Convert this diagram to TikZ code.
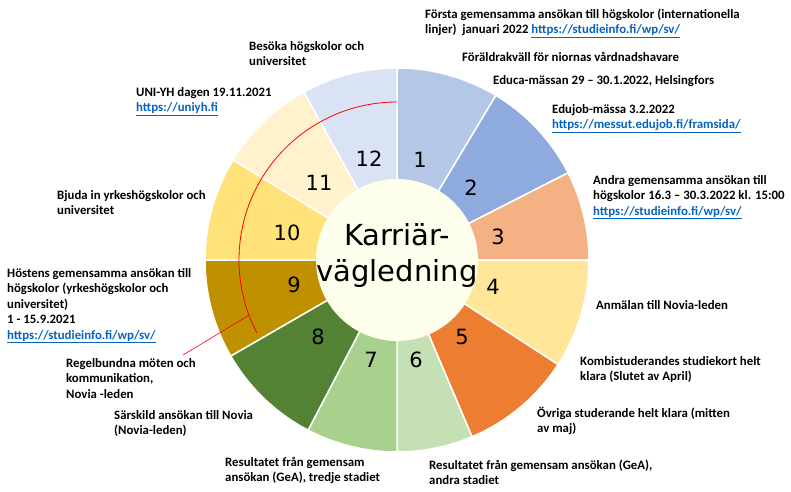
\documentclass[tikz,border=0pt]{standalone}
\usepackage{fontspec}
\setmainfont{Carlito}
\newfontfamily\comic{DejaVu Sans}
\definecolor{linkblue}{HTML}{0563C1}
\definecolor{cA}{HTML}{B4C7E7}\definecolor{cB}{HTML}{8FAADC}\definecolor{cC}{HTML}{F4B183}
\definecolor{cD}{HTML}{FFE699}\definecolor{cE}{HTML}{ED7D31}\definecolor{cF}{HTML}{C5E0B4}
\definecolor{cG}{HTML}{A9D18E}\definecolor{cH}{HTML}{548235}\definecolor{cI}{HTML}{BF9000}
\definecolor{cJ}{HTML}{FFE27A}\definecolor{cK}{HTML}{FFF2CC}\definecolor{cL}{HTML}{DAE3F3}
\definecolor{ivory}{HTML}{FEFEEC}
\newcommand{\lnk}[1]{{\color{linkblue}\underline{#1}}}
\newcommand{\tl}[1]{\begin{tabular}[t]{@{}l@{}}#1\end{tabular}}
\tikzset{lbl/.style={anchor=base west,inner sep=0pt,font=\bfseries\fontsize{12.8}{15.5}\selectfont},
 num/.style={font=\comic\fontsize{21}{21}\selectfont},
 sec/.style={draw=white,line width=1.5pt}}
\begin{document}
\begin{tikzpicture}[x=1pt,y=1pt]
\useasboundingbox (0,0) rectangle (791,-491);
\coordinate (C) at (397,-260);
\def\R{192}
\foreach \a/\b/\c in {90/59/cA,59/27/cB,27/0/cC,0/-33/cD,-33/-67/cE,-67/-90/cF,-90/-117.6/cG,-117.6/-150/cH,-150/-180/cI,-180/-211.4/cJ,-211.4/-241/cK,-241/-270/cL}
  \filldraw[sec,fill=\c] (C) -- ++(\a:\R) arc[start angle=\a,end angle=\b,radius=\R] -- cycle;
\fill[ivory] (C) circle (81);
\node[num] (n1) at (420,-160) {1};
\node[num] (n2) at (471,-188) {2};
\node[num] (n3) at (498,-237) {3};
\node[num] (n4) at (493,-287) {4};
\node[num] (n5) at (462,-337) {5};
\node[num] (n6) at (416,-360) {6};
\node[num] (n7) at (371,-360) {7};
\node[num] (n8) at (318,-337) {8};
\node[num] (n9) at (294,-285) {9};
\node[num] (n10) at (287,-233) {10};
\node[num] (n11) at (319,-183) {11};
\node[num] (n12) at (369,-159) {12};
\node[font=\comic\fontsize{29}{36}\selectfont,align=center] (title) at (397,-255) {Karriär-\\vägledning};
% red arc
\draw[red,line width=0.8pt] (C) ++(90:158) arc[start angle=90,end angle=207.5,radius=158] coordinate[pos=0.94] (ra);
\coordinate (rl) at (183,-355);
\draw[red,line width=0.6pt] (rl) -- (ra);
% labels
\node[lbl] (l1) at (425,-18) {\tl{Första gemensamma ansökan till högskolor (internationella\\linjer)\ \ januari 2022 \lnk{https://studieinfo.fi/wp/sv/}}};
\node[lbl] (l1b) at (462,-61) {Föräldrakväll för niornas vårdnadshavare};
\node[lbl] (l1c) at (493,-84) {Educa-mässan 29 – 30.1.2022, Helsingfors};
\node[lbl] (l2) at (552,-113) {\tl{Edujob-mässa 3.2.2022\\\lnk{https://messut.edujob.fi/framsida/}}};
\node[lbl] (l3) at (593,-184) {\tl{Andra gemensamma ansökan till\\högskolor 16.3 – 30.3.2022 kl. 15:00\\\lnk{https://studieinfo.fi/wp/sv/}}};
\node[lbl] (l4) at (596,-309) {Anmälan till Novia-leden};
\node[lbl] (l5) at (580,-365) {\tl{Kombistuderandes studiekort helt\\klara (Slutet av April)}};
\node[lbl] (l5b) at (537,-417) {\tl{Övriga studerande helt klara (mitten\\av maj)}};
\node[lbl] (l6) at (429,-469) {\tl{Resultatet från gemensam ansökan (GeA),\\andra stadiet}};
\node[lbl] (l7) at (225,-466) {\tl{Resultatet från gemensam\\ansökan (GeA), tredje stadiet}};
\node[lbl] (l8) at (114,-419) {\tl{Särskild ansökan till Novia\\(Novia-leden)}};
\node[lbl] (lr) at (66,-367) {\tl{Regelbundna möten och\\kommunikation,\\Novia -leden}};
\node[lbl] (l9) at (7,-277) {\tl{Höstens gemensamma ansökan till\\högskolor (yrkeshögskolor och\\universitet)\\1 - 15.9.2021\\\lnk{https://studieinfo.fi/wp/sv/}}};
\node[lbl] (l10) at (57,-199) {\tl{Bjuda in yrkeshögskolor och\\universitet}};
\node[lbl] (l11) at (136,-96) {\tl{UNI-YH dagen 19.11.2021\\\lnk{https://uniyh.fi}}};
\node[lbl] (l12) at (249,-50) {\tl{Besöka högskolor och\\universitet}};
\end{tikzpicture}
\end{document}
